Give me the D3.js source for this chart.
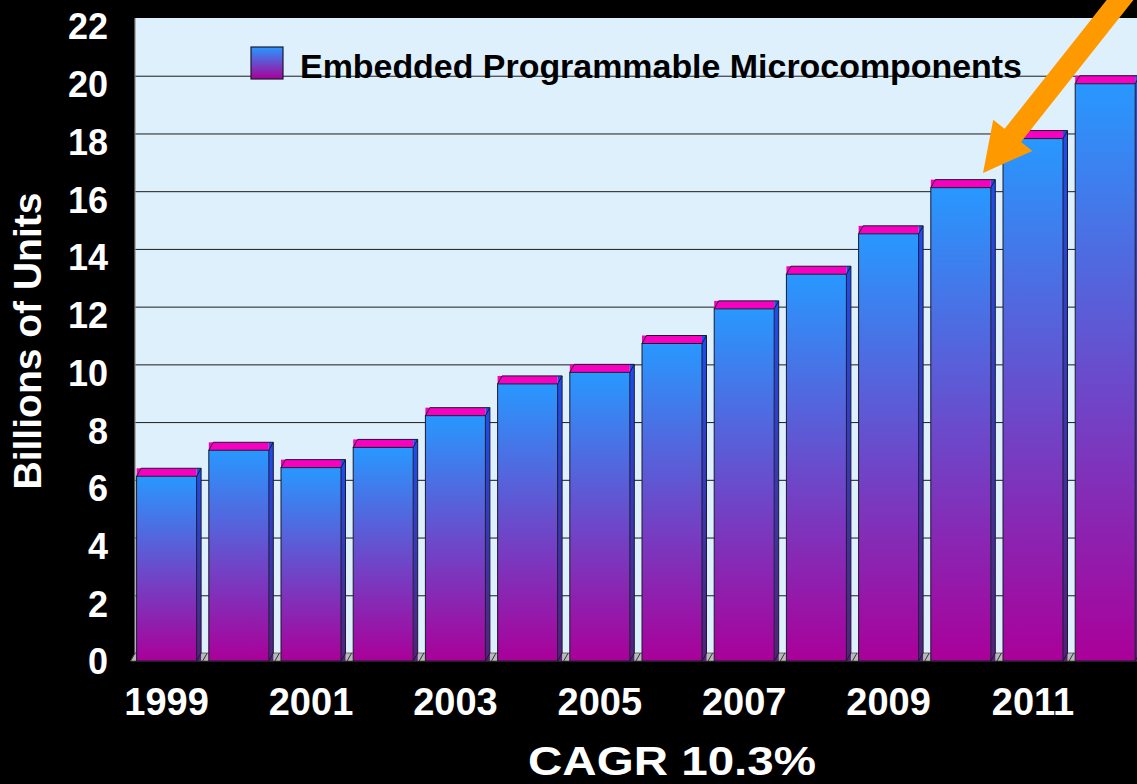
<!DOCTYPE html>
<html>
<head>
<meta charset="utf-8">
<script src="https://cdn.jsdelivr.net/npm/d3@7/dist/d3.min.js"></script>
<style>
  html, body { margin: 0; padding: 0; background: #000; }
  svg { display: block; }
  text { font-family: "Liberation Sans", Arial, Helvetica, sans-serif; font-weight: bold; }
</style>
</head>
<body>
<svg id="chart" width="1137" height="784"></svg>
<script>
// Shipments of embedded programmable microcomponents, billions of units per year
const years = [1999, 2000, 2001, 2002, 2003, 2004, 2005, 2006, 2007, 2008, 2009, 2010, 2011, 2012];
const units = [6.4, 7.3, 6.7, 7.4, 8.5, 9.6, 10.0, 11.0, 12.2, 13.4, 14.8, 16.4, 18.1, 20.0];
const yTicks = [0, 2, 4, 6, 8, 10, 12, 14, 16, 18, 20, 22];
const yearLabels = [1999, 2001, 2003, 2005, 2007, 2009, 2011];
const seriesName = "Embedded Programmable Microcomponents";
const yTitle = "Billions of Units";
const footnote = "CAGR 10.3%";

const svg = d3.select("#chart");
const W = 1137, H = 784;

// 3D depth offset between the front plane and the back wall
const DX = 4.5, DY = 8;
const backLeft = 135, backBottom = 653, backTop = 18;
const frontLeft = backLeft - DX, frontBottom = backBottom + DY;
const step = 72.2;

const x = d3.scaleBand()
  .domain(years)
  .range([frontLeft, frontLeft + step * years.length])
  .paddingInner(0.169)
  .paddingOuter(0.0845);

// y maps values onto the back wall
const y = d3.scaleLinear().domain([0, 22]).range([backBottom, backTop]);

const defs = svg.append("defs");
const front = defs.append("linearGradient").attr("id", "gFront")
  .attr("x1", 0).attr("y1", 0).attr("x2", 0).attr("y2", 1);
front.append("stop").attr("offset", 0).attr("stop-color", "#2898ff");
front.append("stop").attr("offset", 1).attr("stop-color", "#aa0099");
const side = defs.append("linearGradient").attr("id", "gSide")
  .attr("x1", 0).attr("y1", 0).attr("x2", 0).attr("y2", 1);
side.append("stop").attr("offset", 0).attr("stop-color", "#1b4ef2");
side.append("stop").attr("offset", 1).attr("stop-color", "#56207a");

// back wall
svg.append("rect")
  .attr("x", backLeft).attr("y", backTop)
  .attr("width", W - backLeft + 10).attr("height", backBottom - backTop)
  .attr("fill", "#dff0fd");

// gridlines on the back wall
const grid = svg.append("g")
  .attr("transform", `translate(${backLeft},0)`)
  .call(d3.axisLeft(y).tickValues(yTicks.filter(v => v > 0 && v < 22))
    .tickSize(-(W - backLeft + 10)).tickFormat(""));
grid.select(".domain").remove();
grid.selectAll(".tick line").attr("stroke", "#1c1c1c").attr("stroke-width", 1);

// left wall edge
svg.append("line")
  .attr("x1", backLeft).attr("x2", backLeft)
  .attr("y1", backTop).attr("y2", backBottom)
  .attr("stroke", "#8a8a8a").attr("stroke-width", 1.2);

// floor
const floorRight = W + 20;
svg.append("path")
  .attr("d", `M${frontLeft},${frontBottom}L${backLeft},${backBottom}L${floorRight},${backBottom}L${floorRight},${frontBottom}Z`)
  .attr("fill", "#b9b9b9").attr("stroke", "#555").attr("stroke-width", 0.8);
const bounds = d3.range(years.length + 1).map(i => frontLeft + i * step);
svg.append("g").selectAll("line").data(bounds).join("line")
  .attr("x1", d => d).attr("y1", frontBottom)
  .attr("x2", d => d + DX).attr("y2", backBottom)
  .attr("stroke", "#333").attr("stroke-width", 1);

// bars
const bw = x.bandwidth();
const bars = svg.append("g").selectAll("g").data(years.map((yr, i) => ({ yr, v: units[i] }))).join("g");
const ft = d => y(d.v) + DY;   // top of the front face
bars.append("rect") // side face
  .attr("x", d => x(d.yr) + bw).attr("y", d => ft(d) - DY)
  .attr("width", DX).attr("height", d => frontBottom - ft(d) + DY)
  .attr("fill", "url(#gSide)");
bars.append("rect") // top face
  .attr("x", d => x(d.yr)).attr("y", d => ft(d) - DY)
  .attr("width", bw).attr("height", DY)
  .attr("fill", "#f800c0");
bars.append("rect") // front face
  .attr("x", d => x(d.yr)).attr("y", d => ft(d))
  .attr("width", bw).attr("height", d => frontBottom - ft(d))
  .attr("fill", "url(#gFront)")
  .attr("stroke", "#1a1a2e").attr("stroke-width", 1);
bars.append("path") // top/side edges
  .attr("d", d => {
    const x0 = x(d.yr), t = ft(d);
    return `M${x0},${t}L${x0 + DX},${t - DY}L${x0 + bw + DX},${t - DY}L${x0 + bw},${t}` +
           `M${x0 + bw + DX},${t - DY}L${x0 + bw + DX},${backBottom}L${x0 + bw},${frontBottom}`;
  })
  .attr("fill", "none").attr("stroke", "#1a1a2e").attr("stroke-width", 1);

// y tick labels sit on the front plane
const yAxis = svg.append("g")
  .attr("transform", `translate(108,${DY})`)
  .call(d3.axisLeft(y).tickValues(yTicks).tickSize(0).tickPadding(0).tickFormat(d3.format("d")));
yAxis.select(".domain").remove();
yAxis.selectAll("text")
  .attr("fill", "#fff").attr("font-size", 36)
  .attr("font-family", "'Liberation Sans', Arial, sans-serif").attr("font-weight", "bold")
  .attr("dy", "0.36em");

// year labels
const xAxis = svg.append("g")
  .attr("transform", `translate(0,${frontBottom})`)
  .call(d3.axisBottom(x).tickValues(yearLabels).tickSize(0).tickFormat(d3.format("d")));
xAxis.select(".domain").remove();
xAxis.selectAll("text")
  .attr("fill", "#fff").attr("font-size", 38)
  .attr("font-family", "'Liberation Sans', Arial, sans-serif").attr("font-weight", "bold")
  .attr("y", 54).attr("dy", 0);

// y axis title
svg.append("text")
  .attr("transform", "translate(41,341) rotate(-90)")
  .attr("text-anchor", "middle")
  .attr("fill", "#fff").attr("font-size", 38)
  .attr("textLength", 297).attr("lengthAdjust", "spacingAndGlyphs")
  .text(yTitle);

// legend
svg.append("rect")
  .attr("x", 251).attr("y", 47).attr("width", 32).attr("height", 32)
  .attr("fill", "url(#gFront)").attr("stroke", "#1a1a2e").attr("stroke-width", 1.2);
svg.append("text")
  .attr("x", 300).attr("y", 78)
  .attr("fill", "#000").attr("font-size", 33)
  .attr("textLength", 722).attr("lengthAdjust", "spacingAndGlyphs")
  .text(seriesName);

// highlight arrow pointing at 2010
const tip = [983, 173];
const u = [0.621, -0.784], n = [0.784, 0.621];
const headLen = 48, headHalf = 25, shaftHalf = 10.5, tailLen = 260;
const P = (t, s) => [tip[0] + u[0] * t + n[0] * s, tip[1] + u[1] * t + n[1] * s];
const arrowPts = [P(0, 0), P(headLen, headHalf), P(headLen, shaftHalf), P(tailLen, shaftHalf),
                  P(tailLen, -shaftHalf), P(headLen, -shaftHalf), P(headLen, -headHalf)];
svg.append("path")
  .attr("d", d3.line()(arrowPts) + "Z")
  .attr("fill", "#ff9900");

// footnote
svg.append("text")
  .attr("x", 672).attr("y", 775)
  .attr("text-anchor", "middle")
  .attr("fill", "#fff").attr("font-size", 40)
  .attr("textLength", 288).attr("lengthAdjust", "spacingAndGlyphs")
  .text(footnote);
</script>
</body>
</html>
